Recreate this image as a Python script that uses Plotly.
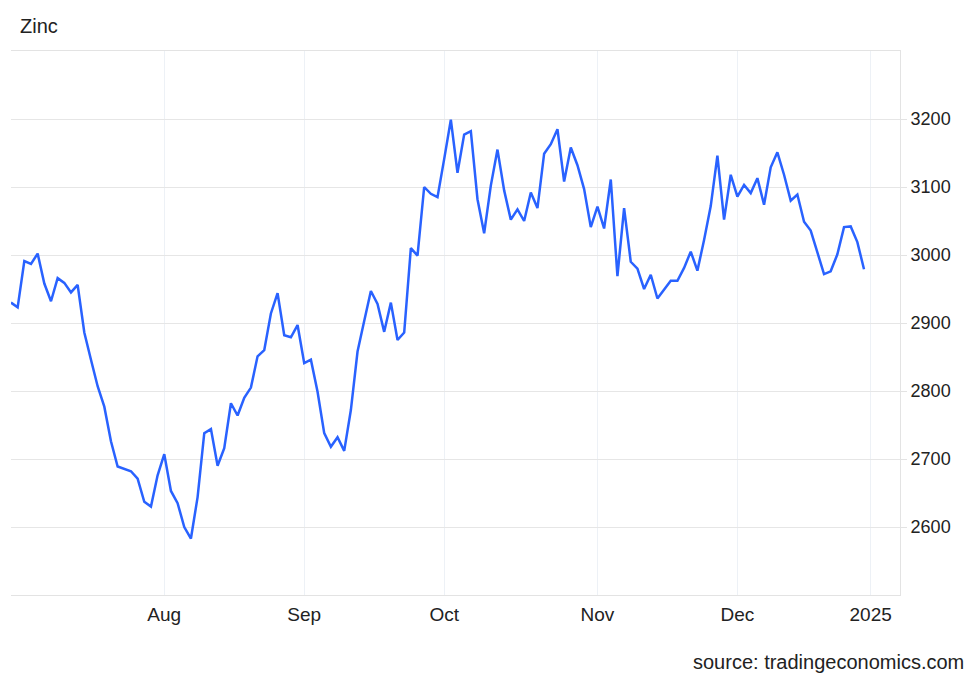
import pandas as pd
import plotly.graph_objects as go

# Zinc price (USD/t), one value per LME trading day, 1 Jul 2024 - 31 Dec 2024
values = [
    2930, 2923, 2991, 2987, 3002, 2958, 2932, 2966, 2959, 2945,
    2956, 2886, 2846, 2807, 2777, 2726, 2689, 2686, 2682, 2671,
    2637, 2630, 2676, 2707, 2653, 2635, 2600, 2583, 2644, 2738,
    2744, 2690, 2716, 2782, 2764, 2790, 2805, 2851, 2860, 2914,
    2944, 2882, 2879, 2897, 2841, 2846, 2799, 2738, 2718, 2732,
    2712, 2772, 2858, 2903, 2947, 2928, 2887, 2930, 2875, 2886,
    3010, 2999, 3100, 3090, 3085, 3141, 3199, 3121, 3177, 3182,
    3082, 3032, 3102, 3155, 3095, 3052, 3067, 3050, 3092, 3069,
    3149, 3163, 3185, 3108, 3158, 3132, 3097, 3041, 3071, 3039,
    3111, 2969, 3069, 2990, 2980, 2950, 2971, 2936, 2949, 2962,
    2962, 2981, 3005, 2977, 3022, 3072, 3146, 3052, 3118, 3086,
    3103, 3091, 3113, 3074, 3129, 3151, 3118, 3080, 3089, 3049,
    3036, 3004, 2972, 2976, 3001, 3041, 3042, 3019, 2979,
]

start_date = "2024-07-01"
end_date = "2024-12-31"
holidays = ["2024-08-26", "2024-12-25", "2024-12-26"]

dates = [d for d in pd.bdate_range(start_date, end_date)
         if d.strftime("%Y-%m-%d") not in holidays]

tick_dates = ["2024-08-01", "2024-09-02", "2024-10-01", "2024-11-01", "2024-12-02", "2025-01-01"]
tick_labels = ["Aug", "Sep", "Oct", "Nov", "Dec", "2025"]
y_ticks = [2600, 2700, 2800, 2900, 3000, 3100, 3200]

title_text = "Zinc"
source_text = "source: tradingeconomics.com"

FONT = "Liberation Sans, Arial, Helvetica, sans-serif"
TXT = "#222222"

fig = go.Figure()
fig.add_trace(go.Scatter(
    x=dates, y=values, mode="lines",
    line=dict(color="#2962ff", width=2.5),
    hoverinfo="x+y", showlegend=False,
))

fig.update_layout(
    width=964, height=671,
    margin=dict(l=3, r=72, t=43, b=84),
    paper_bgcolor="white", plot_bgcolor="white",
    font=dict(family=FONT, size=18, color=TXT),
    xaxis=dict(
        type="date",
        range=["2024-07-01", "2025-01-07 09:36"],
        rangebreaks=[dict(bounds=["sat", "mon"]), dict(values=holidays)],
        tickmode="array", tickvals=tick_dates, ticktext=tick_labels,
        showgrid=True, gridcolor="#edf1f6", gridwidth=1,
        showline=True, linecolor="#e3e3e3", linewidth=1, mirror=True,
        ticks="", ticklabelstandoff=2,
        tickfont=dict(family=FONT, size=19, color=TXT),
        zeroline=False,
    ),
    yaxis=dict(
        side="right",
        range=[2500, 3300],
        tickmode="array", tickvals=y_ticks,
        showgrid=True, gridcolor="#e6e6e6", gridwidth=1,
        showline=True, linecolor="#e3e3e3", linewidth=1,
        ticks="outside", ticklen=6, tickcolor="#e3e3e3",
        tickfont=dict(family=FONT, size=18, color=TXT),
        zeroline=False,
    ),
    annotations=[
        dict(text=title_text, xref="paper", yref="paper", x=0.008, y=1.046,
             xanchor="left", yanchor="middle", showarrow=False,
             font=dict(family=FONT, size=20, color=TXT)),
        dict(text=source_text, xref="paper", yref="paper", x=1.074, y=-0.123,
             xanchor="right", yanchor="middle", showarrow=False,
             font=dict(family=FONT, size=20, color=TXT)),
    ],
)

fig.write_html("out.html")
